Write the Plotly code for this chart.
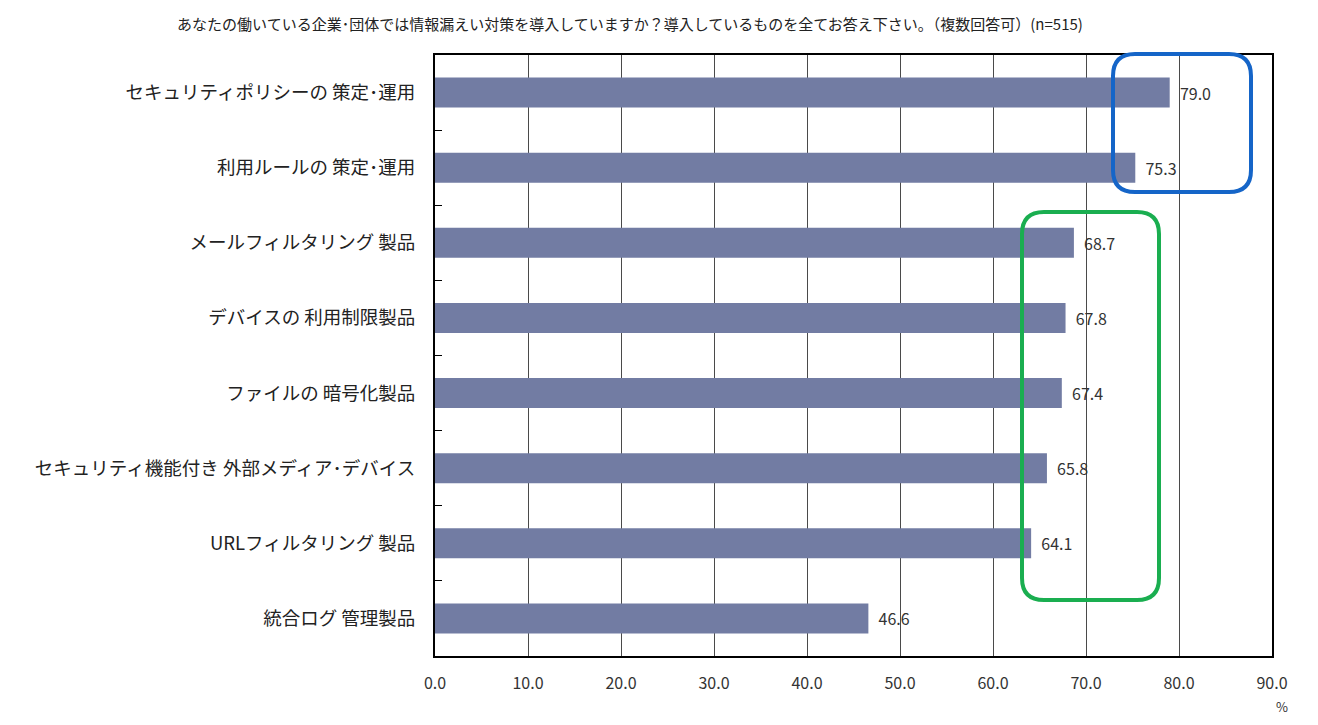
import plotly.graph_objects as go

categories = [
    "セキュリティポリシーの 策定･運用",
    "利用ルールの 策定･運用",
    "メールフィルタリング 製品",
    "デバイスの 利用制限製品",
    "ファイルの 暗号化製品",
    "セキュリティ機能付き 外部メディア･デバイス",
    "URLフィルタリング 製品",
    "統合ログ 管理製品",
]
values = [79.0, 75.3, 68.7, 67.8, 67.4, 65.8, 64.1, 46.6]
x_ticks = [0, 10, 20, 30, 40, 50, 60, 70, 80, 90]
x_ticklabels = [f"{v:.1f}" for v in x_ticks]
title_text = "あなたの働いている企業･団体では情報漏えい対策を導入していますか？導入しているものを全てお答え下さい。（複数回答可）(n=515)"

# page body margin offset (browser default 8px)
OX, OY = 8, 8
W, H = 1318 - OX, 725 - OY
# target plot area in screenshot pixels
PX0, PX1, PY0, PY1 = 435, 1272, 55, 656
L, T = PX0 - OX, PY0 - OY
R, B = W - (PX1 - OX), H - (PY1 - OY)
FONT = "Noto Sans CJK JP"

fig = go.Figure()
fig.add_trace(go.Bar(
    y=categories, x=values, orientation="h",
    marker=dict(color="#727ca3", line=dict(width=0)),
    width=0.4,
    text=[f"  {v:.1f}" for v in values],
    textposition="outside",
    textfont=dict(size=16, color="#333333", family=FONT),
    cliponaxis=False,
    hoverinfo="skip",
))

def rounded_path(x0, x1, y0, y1, rx, ry):
    return (f"M {x0+rx},{y1} L {x1-rx},{y1} Q {x1},{y1} {x1},{y1-ry} "
            f"L {x1},{y0+ry} Q {x1},{y0} {x1-rx},{y0} "
            f"L {x0+rx},{y0} Q {x0},{y0} {x0},{y0+ry} "
            f"L {x0},{y1-ry} Q {x0},{y1} {x0+rx},{y1} Z")

pw = PX1 - PX0
ph = PY1 - PY0
def px_box(px0, px1, py0, py1, r=22):
    x0 = (px0 - PX0) / pw; x1 = (px1 - PX0) / pw
    y1 = (PY1 - py0) / ph; y0 = (PY1 - py1) / ph
    return rounded_path(x0, x1, y0, y1, r / pw, r / ph)

fig.add_shape(type="path", xref="paper", yref="paper",
              path=px_box(1113, 1251, 54, 192),
              line=dict(color="#1565c8", width=4), layer="above")
fig.add_shape(type="path", xref="paper", yref="paper",
              path=px_box(1022, 1159, 212, 600),
              line=dict(color="#1aae50", width=4), layer="above")

fig.add_annotation(text="%", xref="paper", yref="paper",
                   x=(1282 - PX0) / pw, y=(PY1 - 706) / ph,
                   xanchor="center", yanchor="middle",
                   showarrow=False, font=dict(size=13, color="#333333", family=FONT))

fig.update_layout(
    width=W, height=H,
    margin=dict(l=L, r=R, t=T, b=B, autoexpand=False),
    paper_bgcolor="white", plot_bgcolor="white",
    font=dict(family=FONT, color="#222222"),
    showlegend=False,
    title=dict(text=title_text, x=(630 - OX) / W, xref="container", xanchor="center",
               y=1 - (25 - OY) / H, yref="container", yanchor="middle",
               font=dict(size=15, color="#222222", family=FONT)),
    bargap=0.6,
)
fig.update_xaxes(
    range=[0, 90], tickvals=x_ticks, ticktext=x_ticklabels,
    showgrid=True, gridcolor="#4a4a4a", gridwidth=1,
    showline=True, linecolor="black", linewidth=2, mirror=True,
    ticks="", tickfont=dict(size=16, color="#333333", family=FONT),
    ticklabelstandoff=12, zeroline=False, fixedrange=True, automargin=False,
)
fig.update_yaxes(
    autorange="reversed", type="category",
    showline=True, linecolor="black", linewidth=2, mirror=True,
    ticks="inside", tickson="boundaries", ticklen=7, tickcolor="black",
    tickfont=dict(size=18.5, color="#222222", family=FONT),
    ticklabelstandoff=14, showgrid=False, fixedrange=True, automargin=False,
)

fig.write_html("out.html")
